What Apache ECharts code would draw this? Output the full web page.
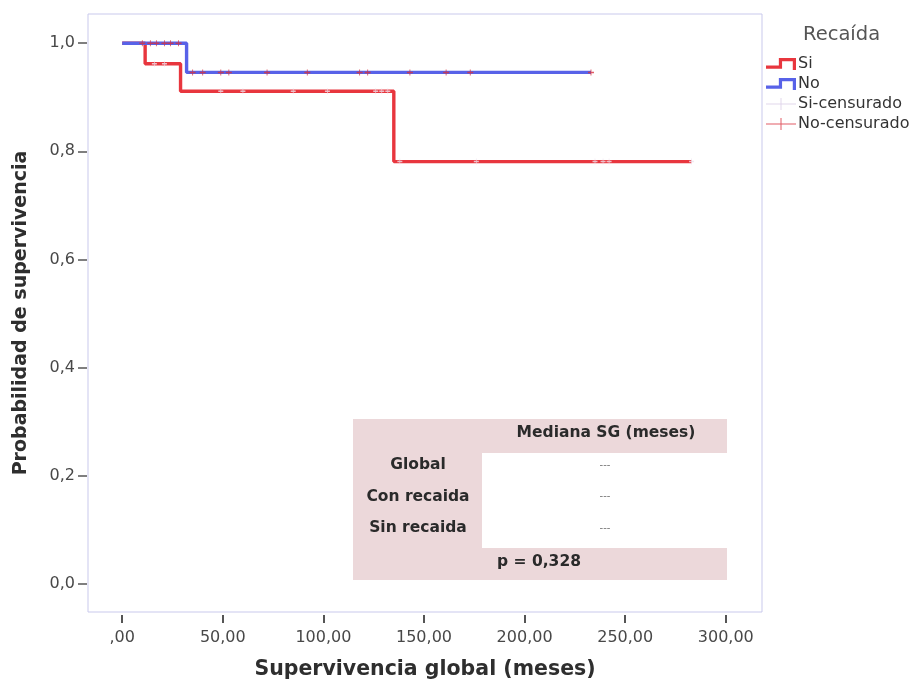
<!DOCTYPE html>
<html><head><meta charset="utf-8">
<script src="https://cdn.jsdelivr.net/npm/echarts@6/dist/echarts.min.js"></script>
<style>html,body{margin:0;padding:0;background:#fff}#c{width:914px;height:685px}</style>
</head><body><div id="c"></div>
<script>
// ---- data ----
const siStepTimes = [0, 11.4, 29, 135];
const siStepSurv = [1.0, 0.962, 0.911, 0.781];
const siEndTime = 283;
const noStepTimes = [0, 32];
const noStepSurv = [1.0, 0.946];
const noEndTime = 233;
const siCensorTimes = [16, 21, 49, 60, 85, 102, 126, 129, 132, 138, 176, 235, 239, 242, 283];
const noCensorTimes = [10, 14, 17, 21, 24, 28, 35, 40, 49, 53, 72, 92, 118, 122, 143, 161, 173, 233];
const xTickValues = [0, 50, 100, 150, 200, 250, 300];
const xTickLabels = [',00', '50,00', '100,00', '150,00', '200,00', '250,00', '300,00'];
const yTickValues = [0, 0.2, 0.4, 0.6, 0.8, 1.0];
const yTickLabels = ['0,0', '0,2', '0,4', '0,6', '0,8', '1,0'];
const legendTitle = 'Recaída';
const seriesNames = ['Si', 'No', 'Si-censurado', 'No-censurado'];
const tableHeader = 'Mediana SG (meses)';
const tableRowLabels = ['Global', 'Con recaida', 'Sin recaida'];
const tableRowValues = ['---', '---', '---'];
const pValueText = 'p = 0,328';

// ---- helpers ----
function stepData(times, surv, end) {
  const pts = times.map((t, i) => [t, surv[i]]);
  pts.push([end, surv[surv.length - 1]]);
  return pts;
}
function survAt(times, surv, t) {
  let v = surv[0];
  for (let i = 0; i < times.length; i++) if (times[i] <= t) v = surv[i];
  return v;
}
function lookup(vals, labels) {
  return v => { const i = vals.findIndex(x => Math.abs(x - v) < 1e-9); return i >= 0 ? labels[i] : ''; };
}

const FONT = 'DejaVu Sans';
const RED = '#e8363e', BLUE = '#5862e8', CENS_SI = '#efe2ee', CENS_NO = '#d8323f';
const stepIcon = 'path://M0,8 L12,8 L12,1 L28,1 L28,12 L25,12 L25,4 L15,4 L15,11 L0,11 Z';
const plusIcon = 'path://M0,5.5 L30,5.5 L30,6.5 L0,6.5 Z M14.5,0 L15.5,0 L15.5,12 L14.5,12 Z';
const censSymbol = 'path://M0,3 L8,3 L8,5 L0,5 Z M3.4,0 L4.6,0 L4.6,8 L3.4,8 Z';

const chart = echarts.init(document.getElementById('c'), null, {renderer: 'canvas'});

// table graphic (annotation)
const tX = 353, tY = 419, tW = 374, tH = 161;
const TFONT = 'bold 15.5px ' + FONT;
const tableGraphic = [
  {type: 'rect', shape: {x: tX, y: tY, width: tW, height: tH}, style: {fill: '#ecd8da'}, z: 10},
  {type: 'rect', shape: {x: 482, y: 453, width: tX + tW - 482, height: 95}, style: {fill: '#ffffff'}, z: 11},
  {type: 'text', x: 606, y: 433, style: {text: tableHeader, font: TFONT, fill: '#2a2a2a', textAlign: 'center', textVerticalAlign: 'middle'}, z: 12},
  {type: 'text', x: 539, y: 562, style: {text: pValueText, font: TFONT, fill: '#2a2a2a', textAlign: 'center', textVerticalAlign: 'middle'}, z: 12}
];
tableRowLabels.forEach((lab, i) => {
  const y = 465 + i * 31.5;
  tableGraphic.push({type: 'text', x: 418, y: y, style: {text: lab, font: TFONT, fill: '#2a2a2a', textAlign: 'center', textVerticalAlign: 'middle'}, z: 12});
  tableGraphic.push({type: 'text', x: 605, y: y, style: {text: tableRowValues[i], font: '10px ' + FONT, fill: '#777', textAlign: 'center', textVerticalAlign: 'middle'}, z: 12});
});

chart.setOption({
  animation: false,
  backgroundColor: '#ffffff',
  title: {text: legendTitle, left: 798, top: 20, textStyle: {fontFamily: FONT, fontSize: 19.5, fontWeight: 'normal', color: '#555'}},
  legend: {
    orient: 'vertical', left: 761, top: 50, itemWidth: 30, itemHeight: 12, itemGap: 2,
    textStyle: {fontFamily: FONT, fontSize: 16, lineHeight: 18, color: '#333', padding: [0, 0, 0, -3]},
    data: [
      {name: seriesNames[0], icon: stepIcon},
      {name: seriesNames[1], icon: stepIcon},
      {name: seriesNames[2], icon: plusIcon, itemStyle: {color: '#d8cce6'}},
      {name: seriesNames[3], icon: plusIcon}
    ]
  },
  grid: {left: 88, top: 14, right: 152, bottom: 72, show: true, borderColor: '#c9c9ec', borderWidth: 1, backgroundColor: '#fff'},
  xAxis: {
    type: 'value', min: -17, max: 318, offset: 3, position: 'bottom',
    axisLine: {show: false, onZero: false}, splitLine: {show: false},
    axisTick: {show: true, length: 8, customValues: xTickValues, lineStyle: {color: '#555', width: 2}},
    axisLabel: {customValues: xTickValues, formatter: lookup(xTickValues, xTickLabels), margin: 15, fontFamily: FONT, fontSize: 16, color: '#484848'},
    name: 'Supervivencia global (meses)', nameLocation: 'middle', nameGap: 44,
    nameTextStyle: {fontFamily: FONT, fontSize: 20.5, fontWeight: 'bold', color: '#2e2e2e'}
  },
  yAxis: {
    type: 'value', min: -0.052, max: 1.054, offset: 1, position: 'left',
    axisLine: {show: false, onZero: false}, splitLine: {show: false},
    axisTick: {show: true, length: 9, customValues: yTickValues, lineStyle: {color: '#555', width: 1.5}},
    axisLabel: {customValues: yTickValues, formatter: lookup(yTickValues, yTickLabels), margin: 12, fontFamily: FONT, fontSize: 16, color: '#484848'},
    name: 'Probabilidad de supervivencia', nameLocation: 'middle', nameGap: 56,
    nameTextStyle: {fontFamily: FONT, fontSize: 19, fontWeight: 'bold', color: '#2e2e2e'}
  },
  graphic: tableGraphic,
  series: [
    {name: seriesNames[0], type: 'line', step: 'end', color: RED, showSymbol: false, symbol: 'none',
     lineStyle: {color: RED, width: 3.4}, data: stepData(siStepTimes, siStepSurv, siEndTime), z: 2},
    {name: seriesNames[1], type: 'line', step: 'end', color: BLUE, showSymbol: false, symbol: 'none',
     lineStyle: {color: BLUE, width: 3.4}, data: stepData(noStepTimes, noStepSurv, noEndTime), z: 3},
    {name: seriesNames[2], type: 'scatter', color: CENS_SI, symbol: censSymbol, symbolSize: [5, 6],
     data: siCensorTimes.map(t => [t, survAt(siStepTimes, siStepSurv, t)]), z: 4},
    {name: seriesNames[3], type: 'scatter', color: CENS_NO, symbol: censSymbol, symbolSize: [6, 6],
     data: noCensorTimes.map(t => [t, survAt(noStepTimes, noStepSurv, t)]), z: 5}
  ]
});
</script></body></html>
